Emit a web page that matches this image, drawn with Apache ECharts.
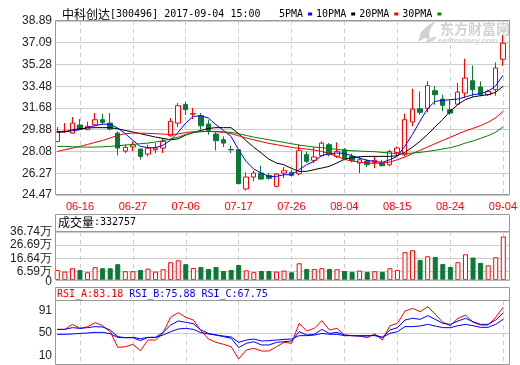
<!DOCTYPE html>
<html><head><meta charset="utf-8">
<script src="https://cdn.jsdelivr.net/npm/echarts@6/dist/echarts.min.js"></script>
<style>html,body{margin:0;padding:0;background:#fff}#c{width:520px;height:365px}</style>
</head><body><div id="c"></div>
<script>
// ---------------- data ----------------
const stockName = '中科创达';
const stockInfo = '[300496] 2017-09-04 15:00';
const volumeLabel = '成交量';
const volumeLast = 332757;
const maNames = ['5PMA', '10PMA', '20PMA', '30PMA'];
const rsiNames = ['RSI_A', 'RSI_B', 'RSI_C'];
const rsiLast = [83.18, 75.88, 67.75];

const dates = ['06-13','06-14','06-15','06-16','06-19','06-20','06-21','06-22','06-23','06-26',
  '06-27','06-28','06-29','06-30','07-03','07-04','07-05','07-06','07-07','07-10',
  '07-11','07-12','07-13','07-14','07-17','07-18','07-19','07-20','07-21','07-24',
  '07-25','07-26','07-27','07-28','07-31','08-01','08-02','08-03','08-04','08-07',
  '08-08','08-09','08-10','08-11','08-14','08-15','08-16','08-17','08-18','08-21',
  '08-22','08-23','08-24','08-25','08-28','08-29','08-30','08-31','09-01','09-04'];
const tickDates = ['06-16','06-27','07-06','07-17','07-26','08-04','08-15','08-24','09-04'];

const opens = [28.91,29.72,29.60,30.27,29.88,30.29,30.71,30.43,29.60,28.11,
  28.45,28.28,27.86,28.22,28.36,29.38,30.43,31.98,31.18,31.04,
  30.35,29.52,29.05,28.24,28.22,24.97,25.96,26.29,26.10,25.19,
  26.29,26.35,26.23,27.81,27.34,27.73,28.64,27.67,28.22,27.67,
  27.12,27.26,27.17,27.12,26.98,28.00,27.81,30.52,31.62,31.65,
  33.11,32.42,31.54,32.00,32.92,33.94,33.42,32.78,33.20,35.72];
const closes = [29.69,29.76,30.43,29.94,30.16,30.71,30.49,29.94,28.36,28.42,
  28.62,27.67,28.36,28.36,28.91,30.57,31.87,31.54,31.22,30.21,
  29.82,28.97,28.77,28.21,25.41,25.96,26.29,25.79,25.85,26.21,
  26.48,26.10,28.14,27.26,27.62,28.77,27.81,28.08,27.45,27.34,
  27.39,26.98,27.34,26.90,28.08,28.36,30.71,31.59,31.32,33.53,
  32.78,31.90,31.26,33.00,34.16,33.20,32.78,33.06,34.99,37.05];
const lows = [28.85,29.62,29.55,29.85,29.85,30.20,30.29,29.82,27.75,27.95,
  28.10,27.40,27.67,27.95,27.95,29.30,30.10,31.10,30.76,29.88,
  29.47,28.17,28.44,27.95,25.41,24.85,25.60,25.74,25.74,25.10,
  25.87,26.00,26.10,27.12,27.12,27.67,27.67,27.53,27.40,27.17,
  26.29,26.79,26.70,26.84,26.84,27.67,27.67,30.16,31.12,31.32,
  31.95,31.40,31.10,31.95,32.50,32.59,32.65,32.70,32.70,35.17];
const highs = [30.10,30.43,30.93,30.76,30.54,31.26,31.20,31.26,29.74,28.66,
  28.90,28.30,28.64,28.78,29.19,30.85,32.09,32.20,31.68,31.26,
  30.71,29.74,29.33,28.55,28.28,26.35,26.48,26.90,26.29,26.29,
  26.79,26.57,28.64,28.08,28.44,28.91,28.77,28.83,28.36,27.90,
  27.67,27.45,27.67,27.39,28.22,28.50,31.21,33.28,33.06,33.89,
  33.48,32.78,32.37,33.75,35.76,35.20,33.89,33.20,35.46,37.74];

const ma5 = [29.74,29.71,29.80,29.88,30.07,30.21,30.35,30.32,30.02,29.55,
  29.00,28.50,28.39,28.39,28.60,29.02,29.67,30.43,30.98,31.04,
  30.85,30.30,29.82,29.33,28.22,27.26,26.62,26.29,26.01,26.01,
  26.15,26.15,26.57,26.98,27.26,27.73,27.89,27.95,27.92,27.73,
  27.53,27.34,27.26,27.17,27.39,27.67,28.50,29.47,30.57,31.60,
  32.23,32.31,32.37,32.42,32.59,32.78,32.86,33.06,33.48,34.39];
const ma10 = [29.66,29.71,29.88,29.96,30.02,30.05,30.05,30.05,29.96,29.82,
  29.69,29.55,29.41,29.27,29.16,29.05,29.12,29.44,29.66,29.82,
  29.99,30.05,30.05,30.05,29.55,28.97,28.44,27.95,27.45,27.12,
  26.98,26.68,26.43,26.43,26.57,26.70,26.84,27.12,27.42,27.56,
  27.64,27.67,27.67,27.67,27.67,27.73,28.00,28.42,28.91,29.47,
  30.10,30.71,31.40,31.95,32.37,32.59,32.70,32.78,32.97,33.47];
const ma20 = [28.08,28.22,28.36,28.50,28.66,28.83,28.99,29.19,29.41,29.55,
  29.60,29.60,29.58,29.55,29.52,29.48,29.52,29.66,29.71,29.74,
  29.74,29.71,29.66,29.55,29.38,29.19,29.05,28.89,28.75,28.64,
  28.53,28.42,28.33,28.28,28.19,28.08,27.89,27.67,27.42,27.28,
  27.20,27.12,27.09,27.12,27.20,27.39,27.61,27.89,28.17,28.44,
  28.72,28.99,29.24,29.52,29.77,29.99,30.21,30.49,30.85,31.40];
const ma30 = [28.50,28.50,28.47,28.44,28.44,28.44,28.47,28.50,28.55,28.61,
  28.66,28.72,28.77,28.86,28.97,29.11,29.26,29.49,29.63,29.71,
  29.74,29.74,29.71,29.66,29.55,29.41,29.27,29.16,29.05,28.94,
  28.83,28.72,28.61,28.53,28.44,28.39,28.33,28.25,28.18,28.14,
  28.11,28.08,28.06,28.00,27.95,27.89,27.89,27.95,28.00,28.08,
  28.17,28.28,28.39,28.55,28.77,28.94,29.16,29.38,29.66,30.10];

// volume in 万 (10k shares)
const volumes = [7.7,6.4,9.0,7.7,5.9,9.8,9.0,9.0,12.1,6.7,
  6.7,7.7,8.7,6.4,8.2,13.6,15.1,12.1,9.2,10.0,
  8.5,10.0,6.9,7.7,11.5,7.4,6.0,6.9,6.9,6.4,
  7.2,5.9,12.8,8.5,8.5,9.0,8.5,8.2,6.9,6.2,
  7.2,6.2,6.7,6.2,9.0,7.7,21.3,22.8,15.4,18.2,
  17.7,12.3,10.0,13.6,19.7,17.2,13.1,11.3,17.4,33.28];

const rsiA = [54.8,54.8,61.2,56.1,58.2,63.4,59.5,51.9,31.9,32.7,
  35.7,27.6,41.2,41.2,50.6,70.2,76.1,70.2,66.7,53.1,
  42.5,38.3,35.7,32.7,17.0,28.5,30.6,27.2,27.2,32.7,
  38.3,37.0,62.5,52.7,56.1,65.9,54.0,56.1,47.6,46.8,
  46.3,44.2,48.9,41.2,59.5,62.5,78.2,81.6,77.4,83.8,
  74.0,63.8,59.5,68.9,73.1,63.8,60.4,60.4,70.2,83.18];
const rsiB = [54.8,54.8,57.0,56.1,57.0,58.3,57.8,54.0,45.5,44.2,
  44.2,40.4,44.6,44.6,51.0,60.4,65.5,63.8,62.1,54.0,
  49.7,47.6,45.5,43.4,31.5,37.0,39.1,34.9,34.9,38.3,
  39.1,40.0,51.9,47.6,48.5,54.8,49.7,51.0,47.6,46.8,
  46.3,46.3,47.6,44.6,54.0,57.0,66.8,68.9,67.6,72.3,
  67.6,62.5,61.2,65.5,68.9,64.6,61.2,61.2,66.8,75.88];
const rsiC = [48.5,48.5,48.9,49.7,50.2,51.0,51.0,49.3,44.6,44.2,
  44.6,42.9,44.6,44.6,47.6,51.9,55.3,56.1,54.8,50.6,
  48.9,47.6,46.3,45.1,38.3,41.2,42.5,40.0,40.4,41.2,
  42.1,42.5,46.8,46.8,47.6,49.7,48.5,48.5,46.8,46.8,
  46.8,46.8,46.8,44.6,49.7,51.9,58.3,58.3,59.1,61.2,
  59.1,57.0,57.0,59.5,61.2,59.5,57.4,57.4,61.2,67.75];

const priceTicks = [24.47, 26.27, 28.08, 29.88, 31.68, 33.48, 35.28, 37.09, 38.89];
const volTicks = [0, 6.59, 16.64, 26.69, 36.74];
const rsiTicks = [10, 50, 91];

// ---------------- styling ----------------
const RED = '#ff0000', GREEN = '#0a7a35', BLUE = '#0000ff', BLACK = '#000000', MAGREEN = '#008000';
const GRIDC = '#cccccc', BORDER = '#999999', LABEL = '#222';
const MONO = '"DejaVu Sans Mono", "Liberation Mono", monospace';
const SANS = '"Liberation Sans", Arial, sans-serif';
const CJK = '"Noto Sans CJK SC", sans-serif';
const X_MIN = -0.17, X_MAX = 59.89;

const tickIdx = tickDates.map(d => dates.indexOf(d));
const pairs = arr => arr.map((v, i) => [i, v]);

function xAxisCfg(gi, showLabel) {
  return {
    type: 'value', gridIndex: gi, min: X_MIN, max: X_MAX,
    axisLine: { show: false },
    axisTick: { show: false, customValues: tickIdx },
    axisLabel: { show: showLabel, customValues: tickIdx, formatter: v => dates[Math.round(v)],
      color: RED, fontSize: 11, fontFamily: SANS, margin: 6, showMinLabel: true, showMaxLabel: true },
    splitLine: { show: true, lineStyle: { color: GRIDC, type: [4, 4], width: 1 } }
  };
}
function yAxisCfg(gi, ticks, labelTicks, fmt) {
  return {
    type: 'value', gridIndex: gi, position: 'left', offset: 0,
    min: ticks[0], max: ticks[ticks.length - 1],
    axisLine: { show: false },
    axisTick: { show: false, customValues: ticks },
    axisLabel: { customValues: labelTicks, formatter: fmt, color: LABEL, fontSize: 12, fontFamily: SANS, margin: 4,
      showMinLabel: true, showMaxLabel: true, hideOverlap: false },
    splitLine: { show: true, lineStyle: { color: GRIDC, width: 1 } }
  };
}

const candleData = dates.map((d, i) => [i, opens[i], closes[i], lows[i], highs[i]]);
const volData = volumes.map((v, i) => ({
  value: [i, v],
  itemStyle: closes[i] >= opens[i]
    ? { color: '#ffffff', borderColor: RED, borderWidth: 1 }
    : { color: GREEN, borderColor: GREEN, borderWidth: 1 }
}));

function lineSeries(name, data, color, xi, yi) {
  return { name, type: 'line', xAxisIndex: xi, yAxisIndex: yi, data: pairs(data), symbol: 'none', showSymbol: false,
    color, lineStyle: { width: 1, color }, z: 3, silent: true };
}

const volFmt = v => v === 0 ? '0' : v.toFixed(2) + '万';
const volAxis = yAxisCfg(1, volTicks, volTicks.slice(1), volFmt);
// separate label-only axis for the zero label so the overlap logic keeps both labels
const volZeroAxis = yAxisCfg(1, volTicks, volTicks.slice(0, 1), v => '{z|' + volFmt(v) + '}');
volZeroAxis.splitLine.show = false;
volZeroAxis.axisLabel.rich = { z: { padding: [3, 0, 0, 0], fontSize: 12, fontFamily: SANS, color: LABEL } };

const rsiAxis = yAxisCfg(2, rsiTicks, rsiTicks, v => v === rsiTicks[2] ? '{t|' + v + '}' : (v === rsiTicks[0] ? '{b|' + v + '}' : String(v)));
rsiAxis.axisLabel.rich = {
  t: { padding: [20, 0, 0, 0], fontSize: 12, fontFamily: SANS, color: LABEL },
  b: { padding: [0, 0, 18, 0], fontSize: 12, fontFamily: SANS, color: LABEL }
};
rsiAxis.axisTick.customValues = [50];

const option = {
  animation: false,
  backgroundColor: '#ffffff',
  title: {
    left: 57, top: 3,
    text: '{c|' + stockName + '}{m|' + stockInfo + '}',
    textStyle: { fontWeight: 'normal', rich: {
      c: { fontFamily: CJK, fontSize: 12, color: '#000', fontWeight: 'normal' },
      m: { fontFamily: MONO, fontSize: 10, color: '#000', fontWeight: 'normal' }
    } }
  },
  legend: {
    left: 274, top: 4, align: 'right', icon: 'rect', itemWidth: 4, itemHeight: 3, itemGap: 4,
    selectedMode: false, data: maNames,
    textStyle: { fontFamily: MONO, fontSize: 10, color: '#000' }
  },
  grid: [
    { left: 56, top: 21, width: 454, height: 174 },
    { left: 56, top: 232, width: 454, height: 48 },
    { left: 56, top: 301, width: 454, height: 63.5 }
  ],
  xAxis: [xAxisCfg(0, true), xAxisCfg(1, false), xAxisCfg(2, false)],
  yAxis: [
    yAxisCfg(0, priceTicks, priceTicks, v => v.toFixed(2)),
    volAxis,
    rsiAxis,
    volZeroAxis
  ],
  graphic: [
    { type: 'rect', silent: true, z: 100, shape: { x: 55.5, y: 20.5, width: 454, height: 174 }, style: { fill: null, stroke: BORDER, lineWidth: 1 } },
    { type: 'rect', silent: true, z: 100, shape: { x: 55.5, y: 214.5, width: 454, height: 65.5 }, style: { fill: null, stroke: BORDER, lineWidth: 1 } },
    { type: 'line', silent: true, z: 100, shape: { x1: 55.5, y1: 231.5, x2: 509.5, y2: 231.5 }, style: { stroke: BORDER, lineWidth: 1 } },
    { type: 'rect', silent: true, z: 100, shape: { x: 55.5, y: 287.5, width: 454, height: 77 }, style: { fill: null, stroke: BORDER, lineWidth: 1 } },
    { type: 'line', silent: true, z: 100, shape: { x1: 55.5, y1: 300.5, x2: 509.5, y2: 300.5 }, style: { stroke: BORDER, lineWidth: 1 } },
    { type: 'text', silent: true, z: 101, x: 58, y: 216,
      style: { text: '{c|' + volumeLabel + '}{m|:' + volumeLast + '}', rich: {
        c: { fontFamily: CJK, fontSize: 12, fill: '#000' }, m: { fontFamily: MONO, fontSize: 10, fill: '#000' } } } },
    { type: 'text', silent: true, z: 101, x: 57, y: 289,
      style: { text: '{r|' + rsiNames[0] + ':' + rsiLast[0].toFixed(2) + '} {b|' + rsiNames[1] + ':' + rsiLast[1].toFixed(2) + '} {b|' + rsiNames[2] + ':' + rsiLast[2].toFixed(2) + '}',
        rich: { r: { fontFamily: MONO, fontSize: 10, fill: RED }, b: { fontFamily: MONO, fontSize: 10, fill: BLUE } },
        fontFamily: MONO, fontSize: 10 } },
    // watermark
    { type: 'polygon', silent: true, z: 1, shape: { points: [[418,42],[421,32],[428,25],[436,21],[431,28],[429,34],[430,40],[425,38]] }, style: { fill: '#d2d2d2' } },
    { type: 'polygon', silent: true, z: 1, shape: { points: [[424,43],[429,39],[434,37],[437,37],[433,41]] }, style: { fill: '#d2d2d2' } },
    { type: 'text', silent: true, z: 1, x: 440, y: 22, style: { text: '东方财富网', fontFamily: CJK, fontWeight: 'bold', fontSize: 14, fill: '#d2d2d2' } },
    { type: 'text', silent: true, z: 1, x: 438, y: 37, style: { text: 'eastmoney.com', fontFamily: SANS, fontWeight: 'bold', fontSize: 8, fill: '#d2d2d2' } }
  ],
  series: [
    { type: 'candlestick', xAxisIndex: 0, yAxisIndex: 0, data: candleData, barWidth: 5, silent: true, z: 2,
      itemStyle: { color: '#ffffff', color0: GREEN, borderColor: RED, borderColor0: GREEN, borderWidth: 1 } },
    lineSeries(maNames[0], ma5, BLUE, 0, 0),
    lineSeries(maNames[1], ma10, BLACK, 0, 0),
    lineSeries(maNames[2], ma20, RED, 0, 0),
    lineSeries(maNames[3], ma30, MAGREEN, 0, 0),
    { type: 'bar', xAxisIndex: 1, yAxisIndex: 1, data: volData, barWidth: 5, silent: true },
    lineSeries(rsiNames[0], rsiA, RED, 2, 2),
    lineSeries(rsiNames[1], rsiB, BLUE, 2, 2),
    lineSeries(rsiNames[2], rsiC, BLUE, 2, 2)
  ]
};
const chart = echarts.init(document.getElementById('c'), null, { renderer: 'canvas' });
chart.setOption(option);
</script>
</body></html>
